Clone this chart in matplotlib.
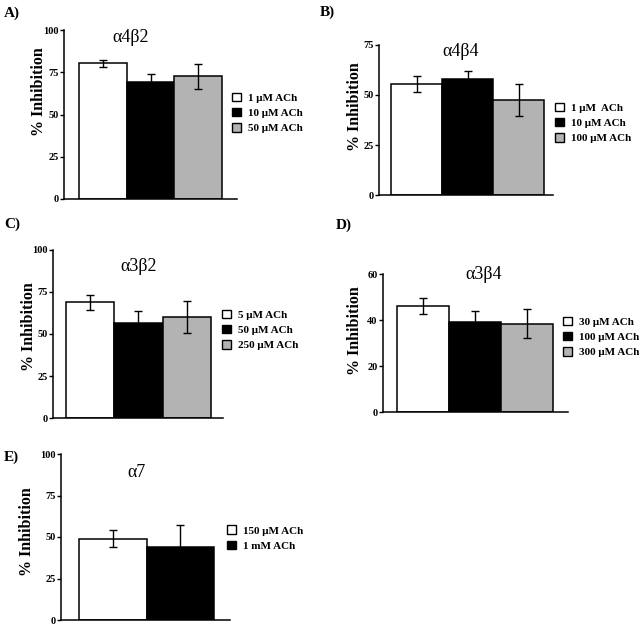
import matplotlib
matplotlib.use("Agg")
import matplotlib.pyplot as plt
from matplotlib.patches import Patch

plt.rcParams['font.family'] = ['Liberation Serif', 'DejaVu Serif']

# ---- data ----
panel_letters = ['A)', 'B)', 'C)', 'D)', 'E)']
titles = ['α4β2', 'α4β4', 'α3β2', 'α3β4', 'α7']

labels_A = ['1 μM ACh', '10 μM ACh', '50 μM ACh']
means_A = [80.3, 69.0, 72.5]
errs_A = [2.0, 5.0, 7.3]

labels_B = ['1 μM  ACh', '10 μM ACh', '100 μM ACh']
means_B = [55.5, 58.0, 47.5]
errs_B = [3.8, 4.0, 8.2]

labels_C = ['5 μM ACh', '50 μM ACh', '250 μM ACh']
means_C = [69.0, 56.5, 60.2]
errs_C = [4.5, 7.0, 9.7]

labels_D = ['30 μM ACh', '100 μM ACh', '300 μM ACh']
means_D = [46.0, 39.0, 38.3]
errs_D = [3.6, 5.0, 6.3]

labels_E = ['150 μM ACh', '1 mM ACh']
means_E = [49.0, 44.0]
errs_E = [5.0, 13.4]

yticks_A = [0, 25, 50, 75, 100]
yticks_B = [0, 25, 50, 75]
yticks_C = [0, 25, 50, 75, 100]
yticks_D = [0, 20, 40, 60]
yticks_E = [0, 25, 50, 75, 100]

ylabel = '% Inhibition'
colors = ['white', 'black', '#b3b3b3']

# ---- layout (pixels) ----
W, H = 640, 625
fig = plt.figure(figsize=(W / 100, H / 100), dpi=100)

panels = [
    # (labels, means, errs, yticks, axbox(l,r,t,b px), xlim, title pos (axes frac),
    #  legend anchor px, letter pos px, ylabel centre px)
    (labels_A, means_A, errs_A, yticks_A, (64, 237, 30, 199), (-0.814, 2.814), (0.387, 0.956), (232, 113), (4, 13), (39, 92)),
    (labels_B, means_B, errs_B, yticks_B, (379, 553, 45, 195), (-0.735, 2.67), (0.47, 0.955), (555, 123), (320, 12), (355, 107)),
    (labels_C, means_C, errs_C, yticks_C, (53, 223, 250, 418), (-0.77, 2.75), (0.502, 0.903), (222, 330), (4, 224), (29, 327)),
    (labels_D, means_D, errs_D, yticks_D, (383, 568, 274, 412), (-0.77, 2.79), (0.544, 0.998), (563, 337), (336, 225), (355, 331)),
    (labels_E, means_E, errs_E, yticks_E, (61, 230, 454, 620), (-0.767, 1.737), (0.448, 0.889), (227, 538), (4, 457), (27, 532)),
]

for i, (labs, means, errs, yt, box, xl, tpos, lpos, letpos, ylpos) in enumerate(panels):
    l, r, t, b = box
    ax = fig.add_axes([l / W, 1 - b / H, (r - l) / W, (b - t) / H])
    x = list(range(len(means)))
    ax.bar(x, means, width=1.0, color=colors[:len(means)], edgecolor='black',
           linewidth=1.1, zorder=2)
    ax.errorbar(x, means, yerr=errs, fmt='none', ecolor='black', elinewidth=1.0,
                capsize=3, capthick=1.0, zorder=3)
    ax.set_xlim(*xl)
    ax.set_ylim(yt[0], yt[-1])
    ax.set_yticks(yt)
    ax.set_yticklabels([str(v) for v in yt], fontsize=7.5, fontweight='bold')
    ax.set_xticks([])
    for s in ['top', 'right']:
        ax.spines[s].set_visible(False)
    for s in ['left', 'bottom']:
        ax.spines[s].set_linewidth(1.1)
    ax.tick_params(axis='y', direction='out', length=3, width=1.0, pad=1)
    ax.set_ylabel(ylabel, fontsize=11.5, fontweight='bold', va='center')
    ax.yaxis.set_label_coords((ylpos[0] - l) / (r - l), (b - ylpos[1]) / (b - t))
    ax.text(tpos[0], tpos[1], titles[i], transform=ax.transAxes, ha='center',
            va='center', fontsize=13)
    handles = [Patch(facecolor=colors[k], edgecolor='black', linewidth=1.0)
               for k in range(len(labs))]
    ax.legend(handles, labs, loc='center left',
              bbox_to_anchor=(lpos[0] / W, 1 - lpos[1] / H),
              bbox_transform=fig.transFigure, frameon=False,
              prop={'size': 8, 'weight': 'bold'}, handlelength=0.8,
              handleheight=0.8, handletextpad=0.6, labelspacing=0.45,
              borderpad=0, borderaxespad=0)
    fig.text(letpos[0] / W, 1 - letpos[1] / H, panel_letters[i], fontsize=11,
             fontweight='bold', ha='left', va='center')

fig.savefig('out.png', dpi=100, facecolor='white')
